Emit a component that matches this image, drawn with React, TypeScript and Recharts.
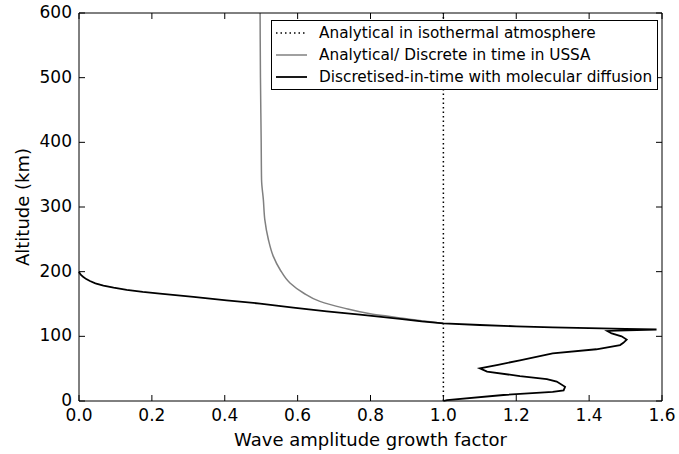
import { LineChart, Line, XAxis, YAxis, Legend } from 'recharts';

// growth factor vs altitude (km)
const isoAmp = [1.0, 1.0];
const isoAlt = [0, 600];

const ussaAmp = [
  0.497, 0.498, 0.5, 0.501, 0.506, 0.51, 0.52, 0.533, 0.552, 0.579, 0.616, 0.661, 0.725, 0.799,
  0.863, 0.92, 0.965, 1.0,
];
const ussaAlt = [600, 500, 400, 342, 311, 280, 249, 224, 203, 182.5, 167, 154, 144, 135, 130, 125.5, 122.5, 120];

const diffAmp = [
  0.0, 0.002, 0.006, 0.012, 0.02, 0.03, 0.045, 0.067, 0.095, 0.131, 0.175, 0.222, 0.314, 0.405,
  0.497, 0.588, 0.68, 0.771, 0.881, 0.94, 1.0, 1.1, 1.2, 1.3, 1.4, 1.5, 1.585, 1.45, 1.462, 1.489,
  1.503, 1.494, 1.485, 1.42, 1.3, 1.21, 1.15, 1.1, 1.12, 1.21, 1.284, 1.311, 1.334, 1.33, 1.3,
  1.165, 1.01, 1.0,
];
const diffAlt = [
  200, 197.5, 194.5, 191.8, 188.5, 185.5, 182, 178.4, 175.2, 172, 168.8, 166, 161, 155.7,
  150.6, 144.4, 138.7, 133.6, 127, 123, 120, 117.5, 115.5, 114, 112.8, 111.5, 110.6, 108.3, 104.5, 100,
  95, 90, 86.5, 80, 73.5, 63, 56, 50.5, 45.5, 38.5, 34, 30, 22, 16.5, 14,
  9.3, 1.5, 0,
];

const xTicks = [0, 0.2, 0.4, 0.6, 0.8, 1.0, 1.2, 1.4, 1.6];
const yTicks = [0, 100, 200, 300, 400, 500, 600];

const legendItems = [
  { label: 'Analytical in isothermal atmosphere', color: '#000', dash: '1.5 3', width: 1.5 },
  { label: 'Analytical/ Discrete in time in USSA', color: '#808080', dash: undefined, width: 1.5 },
  { label: 'Discretised-in-time with molecular diffusion', color: '#000', dash: undefined, width: 1.8 },
];

const toPoints = (amp: number[], alt: number[]) => amp.map((a, i) => ({ amp: a, alt: alt[i] }));

const FONT = '"DejaVu Sans", sans-serif';

const BottomTick = ({ x, y, payload }: any) => (
  <g>
    <line x1={x} y1={y} x2={x} y2={y - 6} stroke="#000" />
    <text x={x} y={y + 20} textAnchor="middle" fontSize={17} fontFamily={FONT} fill="#000">
      {Number(payload.value).toFixed(1)}
    </text>
  </g>
);
const TopTick = ({ x, y }: any) => <line x1={x} y1={y} x2={x} y2={y + 6} stroke="#000" />;
const LeftTick = ({ x, y, payload }: any) => (
  <g>
    <line x1={x} y1={y} x2={x + 6} y2={y} stroke="#000" />
    <text x={x - 7} y={y + 5} textAnchor="end" fontSize={17} fontFamily={FONT} fill="#000">
      {payload.value}
    </text>
  </g>
);
const RightTick = ({ x, y }: any) => <line x1={x} y1={y} x2={x - 6} y2={y} stroke="#000" />;

const LegendBox = () => (
  <div
    style={{
      border: '1px solid #000',
      background: '#fff',
      padding: '1px 5px 1px 4px',
      fontFamily: FONT,
      fontSize: 15.3,
      color: '#000',
    }}
  >
    {legendItems.map((it) => (
      <div key={it.label} style={{ display: 'flex', alignItems: 'center', height: 22 }}>
        <svg width={31} height={10} style={{ marginRight: 12 }}>
          <line x1={0} y1={5} x2={31} y2={5} stroke={it.color} strokeWidth={it.width} strokeDasharray={it.dash} />
        </svg>
        <span style={{ whiteSpace: 'nowrap' }}>{it.label}</span>
      </div>
    ))}
  </div>
);

export default function App() {
  return (
    <div style={{ position: 'absolute', left: 0, top: 0, width: 679, height: 454, background: '#fff' }}>
      <LineChart width={679} height={454} margin={{ top: 12, right: 16, bottom: 0, left: 0 }}>
        <XAxis
          xAxisId="b"
          dataKey="amp"
          type="number"
          domain={[0, 1.6]}
          ticks={xTicks}
          interval={0}
          tickSize={0}
          tickMargin={0}
          height={53}
          stroke="#000"
          tick={<BottomTick />}
          label={{ value: 'Wave amplitude growth factor', position: 'insideBottom', offset: 8, fontSize: 18, fontFamily: FONT, fill: '#000' }}
        />
        <XAxis
          xAxisId="t"
          orientation="top"
          dataKey="amp"
          type="number"
          domain={[0, 1.6]}
          ticks={xTicks}
          interval={0}
          tickSize={0}
          tickMargin={0}
          height={1}
          stroke="#000"
          tick={<TopTick />}
        />
        <YAxis
          yAxisId="l"
          type="number"
          domain={[0, 600]}
          ticks={yTicks}
          interval={0}
          tickSize={0}
          tickMargin={0}
          width={79}
          stroke="#000"
          tick={<LeftTick />}
          label={{ value: 'Altitude (km)', angle: -90, position: 'insideLeft', offset: 23, fontSize: 18, fontFamily: FONT, fill: '#000', style: { textAnchor: 'middle' } }}
        />
        <YAxis
          yAxisId="r"
          orientation="right"
          type="number"
          domain={[0, 600]}
          ticks={yTicks}
          interval={0}
          tickSize={0}
          tickMargin={0}
          width={1}
          stroke="#000"
          tick={<RightTick />}
        />
        <Line
          xAxisId="t"
          yAxisId="r"
          data={toPoints(isoAmp, isoAlt)}
          dataKey="alt"
          type="linear"
          stroke="#000"
          strokeWidth={1.5}
          strokeDasharray="1.5 3"
          dot={false}
          isAnimationActive={false}
        />
        <Line
          xAxisId="b"
          yAxisId="l"
          data={toPoints(ussaAmp, ussaAlt)}
          dataKey="alt"
          type="monotoneY"
          stroke="#808080"
          strokeWidth={1.5}
          dot={false}
          isAnimationActive={false}
        />
        <Line
          xAxisId="b"
          yAxisId="l"
          data={toPoints(diffAmp, diffAlt)}
          dataKey="alt"
          type="linear"
          stroke="#000"
          strokeWidth={1.8}
          dot={false}
          isAnimationActive={false}
        />
        <Legend
          layout="horizontal"
          verticalAlign="middle"
          align="center"
          content={<LegendBox />}
          wrapperStyle={{ left: 271, top: 20, width: 'auto', height: 'auto' }}
        />
      </LineChart>
    </div>
  );
}
